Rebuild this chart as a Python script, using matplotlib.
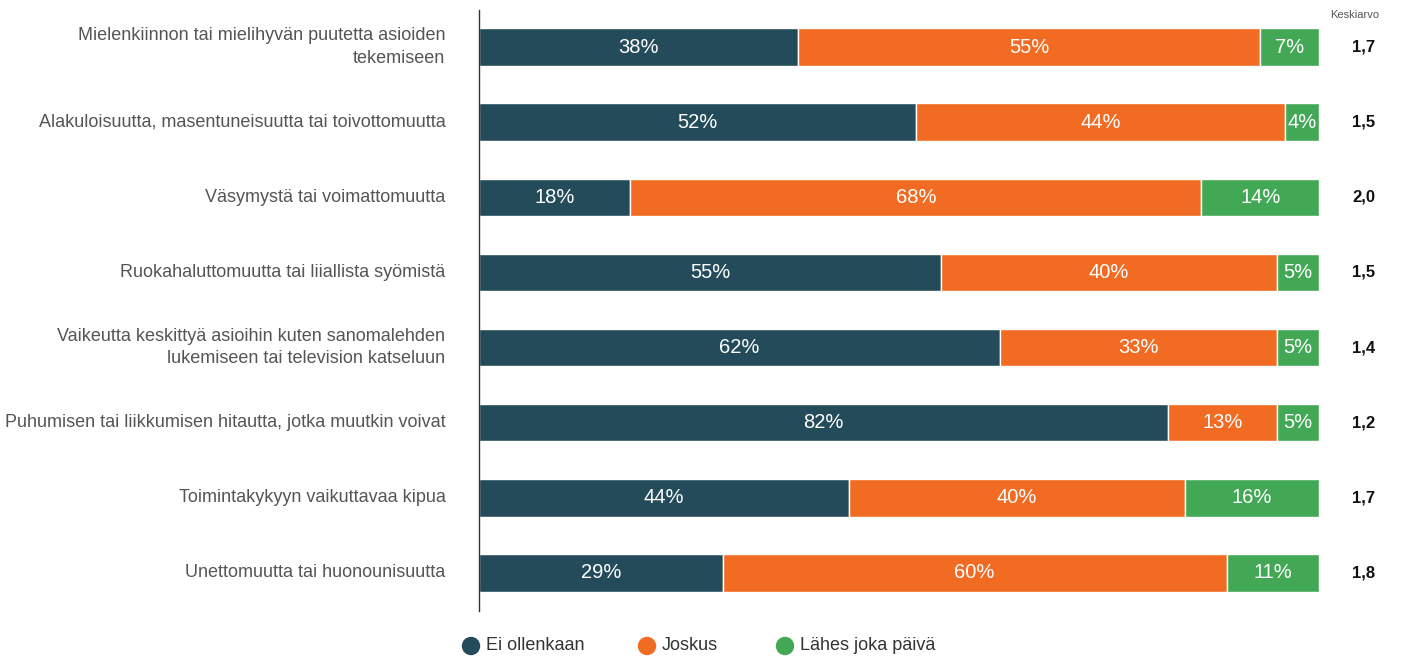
import matplotlib.pyplot as plt
import numpy as np

plt.rcParams['font.family'] = ['Liberation Sans', 'DejaVu Sans']

categories = [
    "Mielenkiinnon tai mielihyvän puutetta asioiden\ntekemiseen",
    "Alakuloisuutta, masentuneisuutta tai toivottomuutta",
    "Väsymystä tai voimattomuutta",
    "Ruokahaluttomuutta tai liiallista syömistä",
    "Vaikeutta keskittyä asioihin kuten sanomalehden\nlukemiseen tai television katseluun",
    "Puhumisen tai liikkumisen hitautta, jotka muutkin voivat",
    "Toimintakykyyn vaikuttavaa kipua",
    "Unettomuutta tai huonounisuutta",
]
ei_ollenkaan = [38, 52, 18, 55, 62, 82, 44, 29]
joskus = [55, 44, 68, 40, 33, 13, 40, 60]
lahes_joka_paiva = [7, 4, 14, 5, 5, 5, 16, 11]
keskiarvo = ["1,7", "1,5", "2,0", "1,5", "1,4", "1,2", "1,7", "1,8"]

series = [
    ("Ei ollenkaan", ei_ollenkaan, "#234b5a"),
    ("Joskus", joskus, "#f26b23"),
    ("Lähes joka päivä", lahes_joka_paiva, "#43a856"),
]

fig = plt.figure(figsize=(14.03, 6.6), dpi=100)
ax = fig.add_axes([479 / 1403, 0.075, 840 / 1403, 0.9106])

y = np.arange(len(categories))
left = np.zeros(len(categories))
for name, vals, color in series:
    vals = np.array(vals, dtype=float)
    ax.barh(y, vals, left=left, height=0.5, color=color,
            edgecolor="white", linewidth=1, label=name)
    for yi, l, v in zip(y, left, vals):
        ax.text(l + v / 2, yi, f"{int(v)}%", ha="center", va="center",
                color="white", fontsize=14.5)
    left += vals

ax.set_xlim(0, 100)
ax.set_ylim(len(categories) - 0.5, -0.5)
ax.set_xticks([])
ax.set_yticks([])
for s in ["top", "right", "bottom"]:
    ax.spines[s].set_visible(False)
ax.spines["left"].set_color("#333333")
ax.spines["left"].set_linewidth(1)

for yi, cat in zip(y, categories):
    ax.text(-4, yi, cat, ha="right", va="center", fontsize=13,
            color="#555555", linespacing=1.45)

for yi, m in zip(y, keskiarvo):
    ax.text(105.3, yi, m, ha="center", va="center", fontsize=12,
            fontweight="bold", color="#111111")
fig.text(1355 / 1403, 1 - 15 / 660, "Keskiarvo", ha="center", va="center",
         fontsize=8, color="#555555")

# legend
leg_items = [(462, "Ei ollenkaan", "#234b5a"), (638, "Joskus", "#f26b23"),
             (776, "Lähes joka päivä", "#43a856")]
for px, name, color in leg_items:
    fig.patches.append(plt.Circle((px + 9, 660 - 646), 8.5,
                                  transform=None, color=color))
    fig.text((px + 24) / 1403, 1 - 646 / 660, name, ha="left", va="center",
             fontsize=13, color="#333333")

fig.savefig("out.png", dpi=100)
